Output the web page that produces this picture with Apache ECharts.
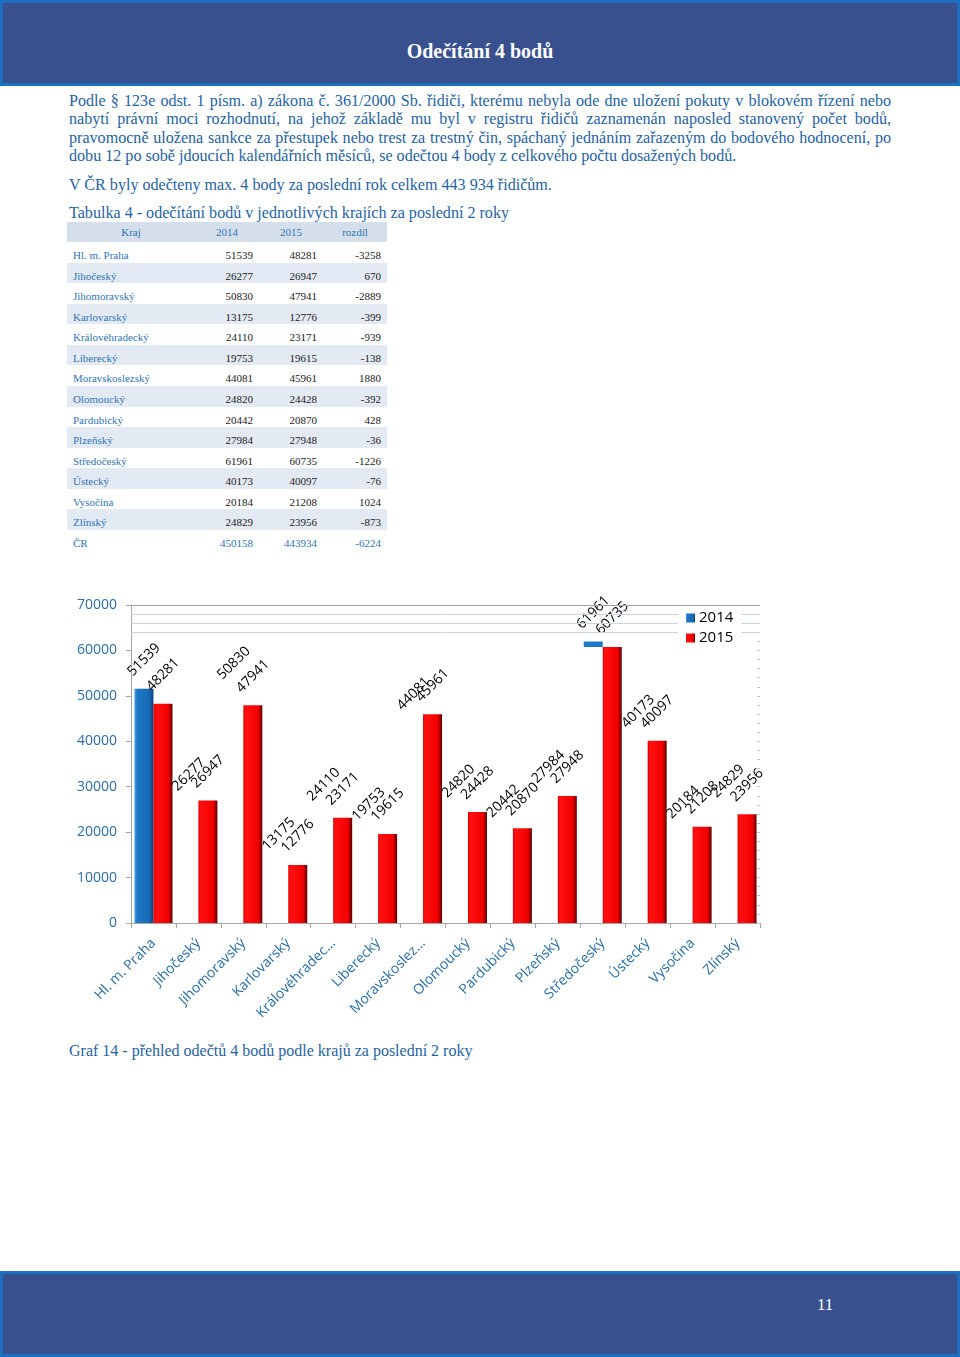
<!DOCTYPE html>
<html>
<head>
<meta charset="utf-8">
<script src="https://cdn.jsdelivr.net/npm/echarts@6/dist/echarts.min.js"></script>
<style>
  html, body { margin: 0; padding: 0; background: #fff; }
  body { width: 960px; height: 1357px; position: relative; overflow: hidden; font-family: "Liberation Serif", "Times New Roman", serif; color: #1f63a3; }
  .bar { position: absolute; left: 0; width: 960px; box-sizing: border-box; background: #39508f; border: 3px solid #1a6fbf; }
  #head { top: 0; height: 86px; }
  #foot { top: 1271px; height: 86px; }
  #title { position: absolute; left: 0; width: 960px; top: 38px; line-height: 26px; text-align: center; color: #fff; font-weight: bold; font-size: 20px; }
  #pageno { position: absolute; left: 817px; top: 1294px; line-height: 22px; color: #fff; font-size: 17px; }
  #para { position: absolute; left: 69px; top: 92px; width: 822px; font-size: 16.1px; line-height: 18.4px; }
  #para div { text-align: justify; text-align-last: justify; white-space: nowrap; }
  #para div.last { text-align-last: left; }
  #summary { position: absolute; left: 69px; top: 176px; font-size: 16.1px; line-height: 18.4px; }
  #tabcap { position: absolute; left: 69px; top: 203px; font-size: 16.1px; line-height: 20px; }
  #caption { position: absolute; left: 69px; top: 1041px; font-size: 16px; line-height: 20px; }
  #tbl { position: absolute; left: 67px; top: 222px; width: 320px; font-size: 11px; }
  #tbl .row { display: flex; height: 20.57px; line-height: 20.57px; box-sizing: border-box; padding-top: 3px; }
  #tbl .row.hdr { height: 20px; line-height: 20px; padding-top: 0; background: #d5dfec; color: #2e75b6; }
  #tbl .row.alt { background: #e4eaf3; }
  #tbl .c0 { width: 128px; padding-left: 6px; box-sizing: border-box; color: #2e75b6; }
  #tbl .num { width: 64px; text-align: right; padding-right: 6px; box-sizing: border-box; color: #1a1a1a; }
  #tbl .hdr .c0, #tbl .hdr .num { text-align: center; padding: 0; color: #2e75b6; }
  #tbl .tot .num { color: #2e75b6; }
  #chart { position: absolute; left: 60px; top: 590px; width: 720px; height: 440px; }
</style>
</head>
<body>
<div id="head" class="bar"></div>
<div id="title">Odečítání 4 bodů</div>

<div id="para">
  <div>Podle § 123e odst. 1 písm. a) zákona č. 361/2000 Sb. řidiči, kterému nebyla ode dne uložení pokuty v blokovém řízení nebo</div>
  <div>nabytí právní moci rozhodnutí, na jehož základě mu byl v registru řidičů zaznamenán naposled stanovený počet bodů,</div>
  <div>pravomocně uložena sankce za přestupek nebo trest za trestný čin, spáchaný jednáním zařazeným do bodového hodnocení, po</div>
  <div class="last">dobu 12 po sobě jdoucích kalendářních měsíců, se odečtou 4 body z celkového počtu dosažených bodů.</div>
</div>
<div id="summary">V ČR byly odečteny max. 4 body za poslední rok celkem 443 934 řidičům.</div>
<div id="tabcap">Tabulka 4 - odečítání bodů v jednotlivých krajích za poslední 2 roky</div>
<div id="tbl"></div>
<div id="chart"></div>
<div id="caption">Graf 14 - přehled odečtů 4 bodů podle krajů za poslední 2 roky</div>

<div id="foot" class="bar"></div>
<div id="pageno">11</div>

<script>
// data z tabulky 4
var regions = ['Hl. m. Praha', 'Jihočeský', 'Jihomoravský', 'Karlovarský', 'Královéhradecký', 'Liberecký',
  'Moravskoslezský', 'Olomoucký', 'Pardubický', 'Plzeňský', 'Středočeský', 'Ústecký', 'Vysočina', 'Zlínský'];
var axisLabels = ['Hl. m. Praha', 'Jihočeský', 'Jihomoravský', 'Karlovarský', 'Královéhradec...', 'Liberecký',
  'Moravskoslez...', 'Olomoucký', 'Pardubický', 'Plzeňský', 'Středočeský', 'Ústecký', 'Vysočina', 'Zlínský'];
var v2014 = [51539, 26277, 50830, 13175, 24110, 19753, 44081, 24820, 20442, 27984, 61961, 40173, 20184, 24829];
var v2015 = [48281, 26947, 47941, 12776, 23171, 19615, 45961, 24428, 20870, 27948, 60735, 40097, 21208, 23956];
var diff = [-3258, 670, -2889, -399, -939, -138, 1880, -392, 428, -36, -1226, -76, 1024, -873];
var totalRow = ['ČR', 450158, 443934, -6224];
var headers = ['Kraj', '2014', '2015', 'rozdíl'];
var guideLines = [64000, 66000, 68000];

// tabulka
var html = '<div class="row hdr"><div class="c0">' + headers[0] + '</div><div class="num">' + headers[1] +
  '</div><div class="num">' + headers[2] + '</div><div class="num">' + headers[3] + '</div></div>';
regions.forEach(function (r, i) {
  html += '<div class="row' + (i % 2 ? ' alt' : '') + '"><div class="c0">' + r + '</div><div class="num">' + v2014[i] +
    '</div><div class="num">' + v2015[i] + '</div><div class="num">' + diff[i] + '</div></div>';
});
html += '<div class="row tot"><div class="c0">' + totalRow[0] + '</div><div class="num">' + totalRow[1] +
  '</div><div class="num">' + totalRow[2] + '</div><div class="num">' + totalRow[3] + '</div></div>';
document.getElementById('tbl').innerHTML = html;

// graf
var blue = { type: 'linear', x: 0, y: 0, x2: 1, y2: 0, colorStops: [
  { offset: 0, color: '#4a9be0' }, { offset: 0.15, color: '#1e78c8' }, { offset: 0.8, color: '#1768b4' }, { offset: 1, color: '#0b3f78' }] };
var red = { type: 'linear', x: 0, y: 0, x2: 1, y2: 0, colorStops: [
  { offset: 0, color: '#e00000' }, { offset: 0.12, color: '#ff1010' }, { offset: 0.78, color: '#f20000' }, { offset: 1, color: '#5a0000' }] };
var sliver = { type: 'linear', x: 0, y: 0, x2: 0, y2: 1, colorStops: [
  { offset: 0, color: '#1e78c8' }, { offset: 0.018, color: '#1e78c8' }, { offset: 0.019, color: 'rgba(0,0,0,0)' }, { offset: 1, color: 'rgba(0,0,0,0)' }] };

// v originale je z modrych sloupcu videt jen Praha a kousek Stredoceskeho
var data2014 = v2014.map(function (v, i) {
  if (i === 0) return v;
  return { value: v, itemStyle: { color: i === 10 ? sliver : 'rgba(0,0,0,0)' } };
});

var labelOpt = {
  show: true, position: 'top', distance: 29, rotate: 45, align: 'center', verticalAlign: 'middle',
  color: '#000', fontSize: 14, fontFamily: 'Open Sans'
};

var myChart = echarts.init(document.getElementById('chart'));
myChart.setOption({
  animation: false,
  grid: { left: 71, right: 20, top: 15, bottom: 107 },
  legend: {
    orient: 'vertical', left: 618, top: 18, z: 10, padding: [2, 8, 3, 8], backgroundColor: '#fff',
    itemWidth: 9, itemHeight: 9, itemGap: 4, icon: 'rect',
    textStyle: { color: '#000', fontSize: 15, fontFamily: 'Open Sans', lineHeight: 16, padding: [0, 0, 0, -1] },
    data: ['2014', '2015']
  },
  xAxis: {
    type: 'category', data: axisLabels,
    axisLine: { lineStyle: { color: '#a6a6a6' } },
    axisTick: { show: true, length: 5, lineStyle: { color: '#a6a6a6' } },
    axisLabel: { interval: 0, rotate: 45, margin: 18, color: '#2a6fa8', fontSize: 14, fontFamily: 'Open Sans' }
  },
  yAxis: [{
    type: 'value', min: 0, max: 70000, interval: 10000,
    axisLine: { show: true, lineStyle: { color: '#a6a6a6' } },
    axisTick: { show: true, length: 5, lineStyle: { color: '#a6a6a6' } },
    axisLabel: { margin: 14, color: '#2a6fa8', fontSize: 14, fontFamily: 'Open Sans',
      formatter: function (v) { return String(v); } },
    splitLine: { show: false }
  }, {
    type: 'value', min: 0, max: 70000, interval: 2000, position: 'right',
    axisLine: { show: false },
    axisTick: { show: true, inside: true, length: 3, lineStyle: { color: '#c4c4c4' } },
    axisLabel: { show: false }, splitLine: { show: false }
  }],
  series: [{
    name: '2014', type: 'bar', data: data2014, barWidth: 19, barGap: '0%',
    itemStyle: { color: blue }, label: labelOpt
  }, {
    name: '2015', type: 'bar', data: v2015, barWidth: 19,
    itemStyle: { color: red }, label: labelOpt,
    markLine: {
      silent: true, symbol: 'none', label: { show: false },
      lineStyle: { color: '#c8d5e5', width: 1, type: 'solid' },
      data: guideLines.map(function (v) { return { yAxis: v }; })
        .concat([{ yAxis: 70000, lineStyle: { color: '#a0a0a0', type: 'solid', width: 1 } }])
    }
  }]
});
</script>
</body>
</html>
